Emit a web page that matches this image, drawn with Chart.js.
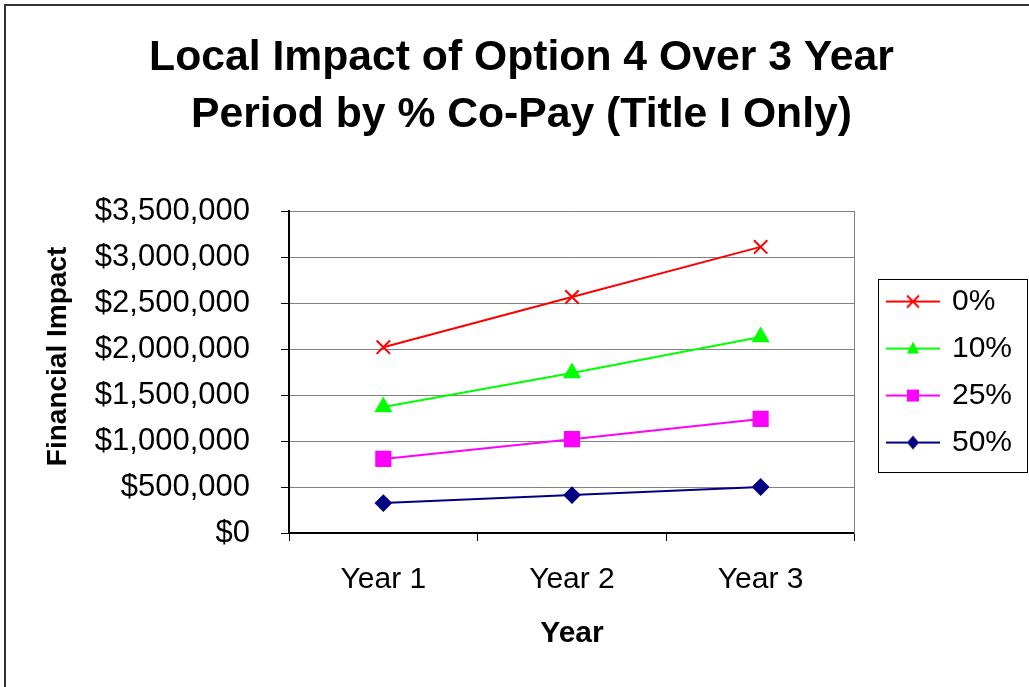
<!DOCTYPE html>
<html>
<head>
<meta charset="utf-8">
<title>Local Impact of Option 4</title>
<script src="https://cdn.jsdelivr.net/npm/chart.js@4"></script>
<style>
  body { margin: 0; background: #fff; }
  canvas { display: block; }
</style>
</head>
<body>
<canvas id="grafico" width="1029" height="687"></canvas>
<script>
// ==========================
// DATOS
// ==========================
const years = ["Year 1", "Year 2", "Year 3"];
const copay0 = [2020000, 2565000, 3110000];
const copay10 = [1370000, 1740000, 2130000];
const copay25 = [805000, 1020000, 1240000];
const copay50 = [325000, 412000, 500000];
const seriesNames = ["0%", "10%", "25%", "50%"];

const FONT = "'Liberation Sans', Arial, sans-serif";

// marcador de leyenda: linea + simbolo
function makeMarker(color, style) {
  const c = document.createElement("canvas");
  c.width = 54;
  c.height = 30;
  const g = c.getContext("2d");
  g.strokeStyle = color;
  g.fillStyle = color;
  g.lineWidth = 2;
  g.beginPath();
  g.moveTo(0, 15);
  g.lineTo(54, 15);
  g.stroke();
  const x = 27, y = 15;
  g.beginPath();
  if (style === "cross") {
    g.moveTo(x - 6, y - 6); g.lineTo(x + 6, y + 6);
    g.moveTo(x + 6, y - 6); g.lineTo(x - 6, y + 6);
    g.stroke();
  } else if (style === "tri") {
    g.moveTo(x, y - 7); g.lineTo(x + 6, y + 5); g.lineTo(x - 6, y + 5);
    g.closePath(); g.fill();
  } else if (style === "rect") {
    g.fillRect(x - 6, y - 6, 12, 12);
  } else {
    g.moveTo(x, y - 7); g.lineTo(x + 6, y); g.lineTo(x, y + 7); g.lineTo(x - 6, y);
    g.closePath(); g.fill();
  }
  return c;
}

const markers = [
  makeMarker("#ff0000", "cross"),
  makeMarker("#00ff00", "tri"),
  makeMarker("#ff00ff", "rect"),
  makeMarker("#000080", "diamond")
];

// bordes: marco exterior y caja de leyenda
const bordes = {
  id: "bordes",
  afterDraw(chart) {
    const ctx = chart.ctx;
    ctx.save();
    ctx.strokeStyle = "#333";
    ctx.lineWidth = 2;
    ctx.beginPath();
    ctx.moveTo(5, 700);
    ctx.lineTo(5, 5);
    ctx.lineTo(1040, 5);
    ctx.stroke();

    const hb = chart.legend.legendHitBoxes;
    if (hb && hb.length) {
      const first = hb[0];
      const last = hb[hb.length - 1];
      const left = first.left - 11;
      const top = first.top - 8;
      const bottom = last.top + last.height + 14;
      ctx.strokeStyle = "#000";
      ctx.lineWidth = 1;
      ctx.strokeRect(Math.round(left) + 0.5, Math.round(top) + 0.5, 1027 - Math.round(left), Math.round(bottom - top));
    }
    ctx.restore();
  }
};

const ctx = document.getElementById("grafico").getContext("2d");

new Chart(ctx, {
  type: "line",
  data: {
    labels: years,
    datasets: [
      { label: seriesNames[0], data: copay0, borderColor: "#ff0000", backgroundColor: "#ff0000",
        pointStyle: "crossRot", pointRadius: 9.5, pointBorderWidth: 2, borderWidth: 2 },
      { label: seriesNames[1], data: copay10, borderColor: "#00ff00", backgroundColor: "#00ff00",
        pointStyle: "triangle", pointRadius: 8.5, borderWidth: 2 },
      { label: seriesNames[2], data: copay25, borderColor: "#ff00ff", backgroundColor: "#ff00ff",
        pointStyle: "rect", pointRadius: 10, borderWidth: 2 },
      { label: seriesNames[3], data: copay50, borderColor: "#000080", backgroundColor: "#000080",
        pointStyle: "rectRot", pointRadius: 7.5, borderWidth: 2 }
    ]
  },
  options: {
    responsive: false,
    animation: false,
    devicePixelRatio: 1,
    layout: { padding: { left: 21, right: 7 } },
    elements: { line: { tension: 0 } },
    plugins: {
      title: {
        display: true,
        text: ["Local Impact of Option 4 Over 3 Year", "Period by % Co-Pay (Title I Only)"],
        color: "#000",
        font: { family: FONT, size: 42.7, weight: "bold", lineHeight: 1.335 },
        padding: { top: 29.5, bottom: 67.5 }
      },
      legend: {
        position: "right",
        fullSize: false,
        labels: {
          color: "#000",
          font: { family: FONT, size: 30 },
          usePointStyle: true,
          pointStyleWidth: 48,
          padding: 17,
          generateLabels(chart) {
            const items = Chart.defaults.plugins.legend.labels.generateLabels(chart);
            items.forEach((it, i) => { it.pointStyle = markers[i]; });
            return items;
          }
        }
      },
      tooltip: { enabled: false }
    },
    scales: {
      x: {
        offset: true,
        grid: { display: true, drawOnChartArea: false, offset: true, tickLength: 8, tickColor: "#000" },
        border: { color: "#000", width: 2 },
        ticks: { color: "#000", font: { family: FONT, size: 30 }, padding: 21 },
        title: {
          display: true, text: "Year", color: "#000",
          font: { family: FONT, size: 30, weight: "bold" },
          padding: { top: 0, bottom: 35 }
        },
        afterFit(s) { s.height = 154; }
      },
      y: {
        min: 0,
        max: 3500000,
        grid: { color: "#808080", lineWidth: 1, tickLength: 8, tickColor: "#000" },
        border: { color: "#000", width: 2 },
        ticks: {
          stepSize: 500000,
          color: "#000",
          font: { family: FONT, size: 31 },
          padding: 31,
          callback: v => "$" + v.toLocaleString("en-US")
        },
        title: {
          display: true, text: "\u00a0\u00a0\u00a0\u00a0Financial Impact", color: "#000",
          font: { family: FONT, size: 28, weight: "bold" },
          padding: { top: 20, bottom: 0 }
        },
        afterFit(s) { s.width = 268; }
      },
      y2: {
        type: "linear",
        position: "right",
        display: true,
        grid: { display: false, drawTicks: false },
        ticks: { display: false },
        border: { display: true, color: "#808080", width: 1 },
        afterFit(s) { s.width = 17; }
      }
    }
  },
  plugins: [bordes]
});
</script>
</body>
</html>
